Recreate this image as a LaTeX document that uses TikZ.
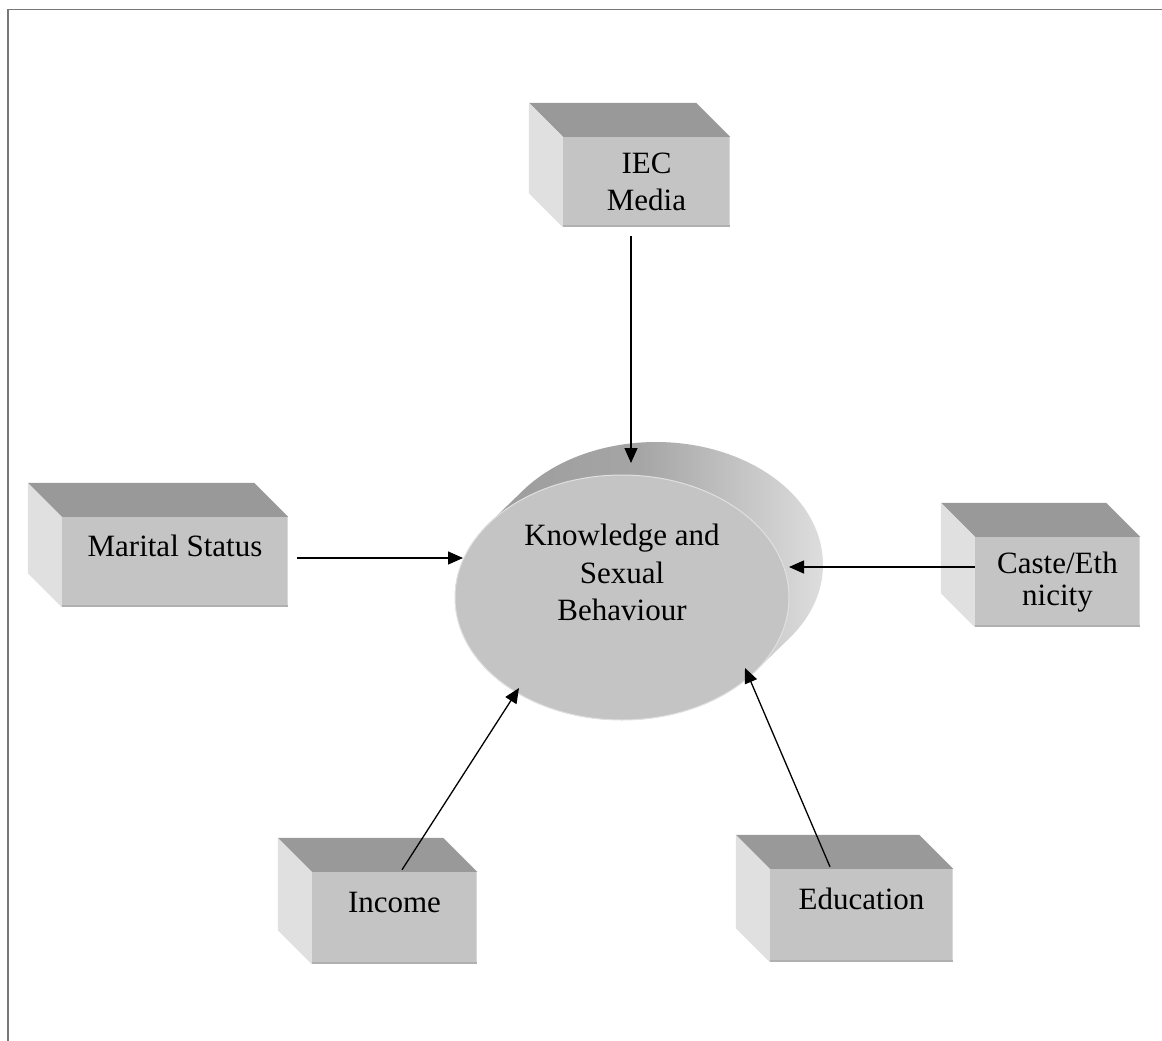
\documentclass[tikz,border=0pt]{standalone}
\usepackage{fontspec}
\setmainfont{Liberation Serif}
\usetikzlibrary{arrows.meta,calc,shapes.geometric}
\definecolor{boxtop}{HTML}{999999}
\definecolor{boxleft}{HTML}{E0E0E0}
\definecolor{boxfront}{HTML}{C4C4C4}
\definecolor{boxbottom}{HTML}{B0B0B0}
\definecolor{boxright}{HTML}{D8D8D8}
\definecolor{sidedark}{HTML}{9A9A9A}
\definecolor{sidelight}{HTML}{E4E4E4}
\definecolor{framegray}{HTML}{777777}
\newcommand\drawcube[1]{%
  \fill[boxtop] (#1.north west) -- (#1.north east) -- ++(-34,-34) -- ($(#1.north west)+(-34,-34)$) -- cycle;
  \fill[boxleft] (#1.north west) -- ++(-34,-34) -- ($(#1.south west)+(-34,-34)$) -- (#1.south west) -- cycle;
  \draw[boxbottom, line width=2pt] ($(#1.south west)+(0,-1)$) -- ($(#1.south east)+(0,-1)$);
  \draw[boxright, line width=1pt] ($(#1.north east)+(-0.5,0)$) -- ($(#1.south east)+(-0.5,-2)$);
}
\begin{document}
\begin{tikzpicture}[x=1pt,y=-1pt,
  front/.style={rectangle, fill=boxfront, inner sep=0pt, align=center,
    font=\fontsize{31}{37}\selectfont},
  conn/.style={line width=1.3pt, -{Triangle[length=15pt,width=13pt]}},
  oval/.style={ellipse, fill=boxfront, draw=boxleft, line width=1pt, inner sep=0pt,
    minimum width=334, minimum height=245, align=center,
    font=\fontsize{31}{37.5}\selectfont, text depth=50pt},
  side/.style={left color=sidedark, right color=sidelight, middle color=sidedark!85!sidelight}
  ]
\useasboundingbox (0,0) rectangle (1162,1041);
\fill[white] (0,0) rectangle (1162,1041);
\draw[framegray, line width=1.5pt] (8,1041) -- (8,9.5) -- (1162,9.5);

% boxes (front faces)
\node[front, minimum width=167, minimum height=90] (iec) at (646.5,182) {IEC\\Media};
\node[front, minimum width=226, minimum height=90, text depth=32pt] (mar) at (175,562) {Marital Status};
\node[front, minimum width=165, minimum height=90, font=\fontsize{31}{32.5}\selectfont] (cas) at (1057.5,582) {Caste/Eth\\nicity};
\node[front, minimum width=165, minimum height=92, text depth=32pt] (inc) at (394.5,918) {Income};
\node[front, minimum width=183, minimum height=93, text depth=34pt] (edu) at (861.5,915.5) {Education};
\drawcube{iec}
\drawcube{mar}
\drawcube{cas}
\drawcube{inc}
\drawcube{edu}

% extruded ellipse
\coordinate (kc) at (622,597.5);
\shade[side] ($(kc)+(34-134.6,-33-72.5)$)
  arc[start angle=216.3, end angle=396.3, x radius=167, y radius=122.5]
  -- ($(kc)+(134.6,72.5)$)
  arc[start angle=36.3, end angle=216.3, x radius=167, y radius=122.5]
  -- cycle;
\node[oval] (k) at (kc) {Knowledge and\\Sexual\\Behaviour};

% connectors
\draw[conn] ($(iec.south)+(-15.5,9)$) -- ($(k.center)+(9,-134.5)$);
\draw[conn] ($(mar.east)+(9,-4)$) -- ($(k.center)+(-159,-39.5)$);
\draw[conn] ($(cas.west)+(0,-15)$) -- ($(k.center)+(167,-30.5)$);
\draw[conn] ($(inc.north)+(7.5,-2)$) -- ($(k.center)+(-103,90.5)$);
\draw[conn] ($(edu.north)+(-31.5,-2)$) -- ($(k.center)+(123,70.5)$);
\end{tikzpicture}
\end{document}
